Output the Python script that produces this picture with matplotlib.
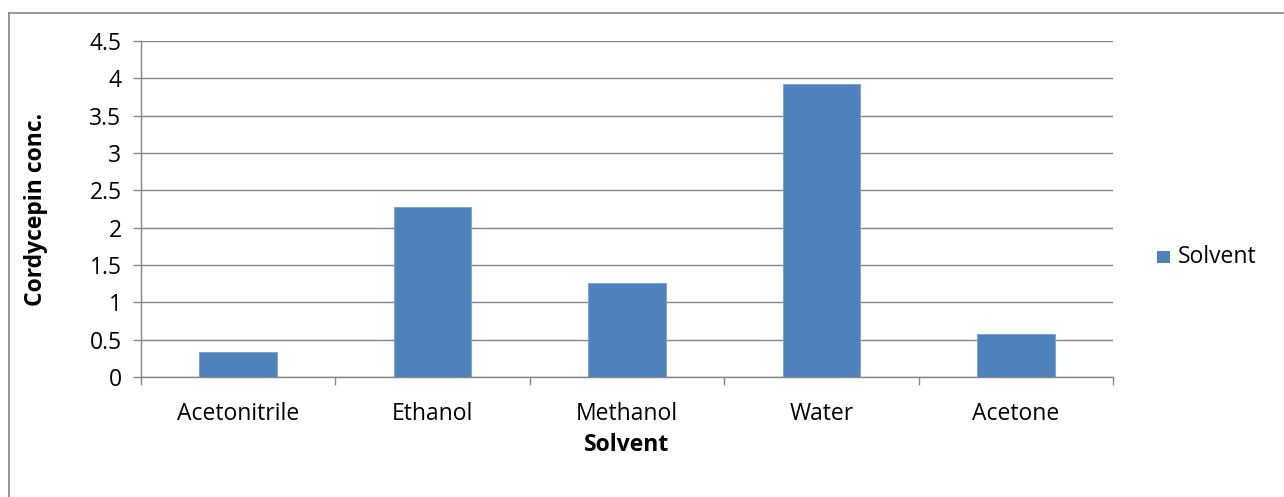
import matplotlib
matplotlib.use("Agg")
import matplotlib.pyplot as plt
from matplotlib.patches import Rectangle
from matplotlib.lines import Line2D
import numpy as np

categories = ["Acetonitrile", "Ethanol", "Methanol", "Water", "Acetone"]
values = [0.34, 2.28, 1.26, 3.93, 0.58]
yticks = [0, 0.5, 1, 1.5, 2, 2.5, 3, 3.5, 4, 4.5]
ytick_labels = ["0", "0.5", "1", "1.5", "2", "2.5", "3", "3.5", "4", "4.5"]
series_name = "Solvent"

plt.rcParams["font.family"] = ["Open Sans", "DejaVu Sans"]

W, H = 1284, 497
fig = plt.figure(figsize=(W / 100, H / 100), dpi=100)
fig.patch.set_facecolor("white")

grey = "#868686"
bar_color = "#4F81BD"
fs = 16.5

ax = fig.add_axes([141 / W, 1 - 377 / H, (1113 - 141) / W, (377 - 41) / H])
x = np.arange(len(categories))
ax.bar(x, values, width=0.4, color=bar_color, edgecolor="#7FA3D2", linewidth=0.7,
       zorder=3, label=series_name)

ax.set_xlim(-0.5, len(categories) - 0.5)
ax.set_ylim(0, 4.5)
ax.set_yticks(yticks)
ax.set_yticklabels(ytick_labels)
ax.yaxis.grid(True, color=grey, linewidth=1.0, zorder=0)
ax.set_axisbelow(True)

# category labels centred under bars, tick marks between categories
ax.set_xticks(x)
ax.set_xticklabels(categories)
ax.tick_params(axis="x", length=0, pad=18, labelsize=fs, colors="black")
ax.set_xticks(np.arange(len(categories) + 1) - 0.5, minor=True)
ax.tick_params(axis="x", which="minor", length=6, width=1, color=grey, direction="out")
ax.tick_params(axis="y", length=6, width=1, color=grey, direction="out", pad=8,
               labelsize=fs, labelcolor="black")

for side in ["top", "right"]:
    ax.spines[side].set_visible(False)
for side in ["left", "bottom"]:
    ax.spines[side].set_color(grey)
    ax.spines[side].set_linewidth(1.0)

ax.set_ylabel("Cordycepin conc.", fontsize=fs, fontweight="bold", labelpad=30)
ax.set_xlabel("Solvent", fontsize=fs, fontweight="bold", labelpad=5)

# legend
fig.patches.append(Rectangle((1157 / W, 1 - 263 / H), 13 / W, 12 / H,
                             transform=fig.transFigure, facecolor=bar_color,
                             edgecolor="none"))
fig.text(1178 / W, 1 - 257 / H, series_name, fontsize=fs, va="center", ha="left")

# chart frame
fig.add_artist(Line2D([8.5 / W, 8.5 / W], [0, 1 - 12.5 / H], transform=fig.transFigure,
                      color=grey, linewidth=1.2))
fig.add_artist(Line2D([8.5 / W, 1], [1 - 12.5 / H, 1 - 12.5 / H], transform=fig.transFigure,
                      color=grey, linewidth=1.2))

fig.savefig("out.png", dpi=100, facecolor="white")
